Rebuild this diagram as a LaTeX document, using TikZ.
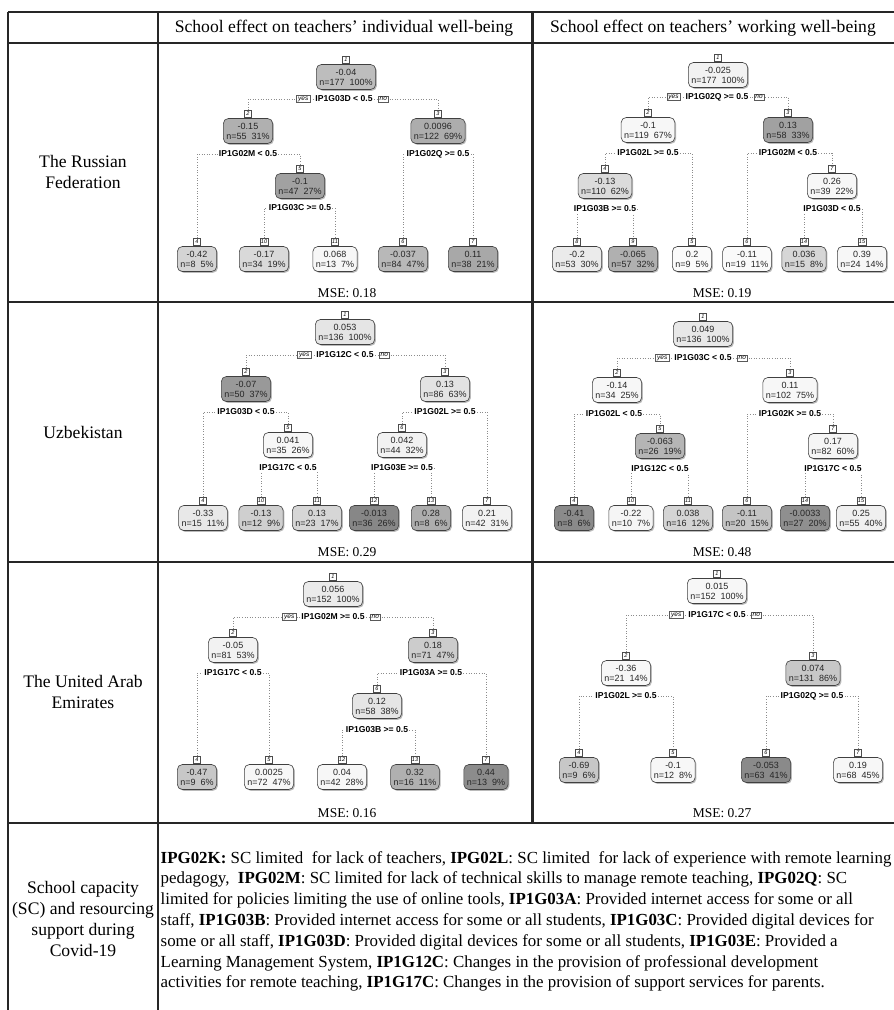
\documentclass[tikz,border=0pt]{standalone}
\usepackage{fontspec}
\setmainfont{Liberation Serif}
\newfontfamily\arialf{Liberation Sans}
\usetikzlibrary{shadows,backgrounds}
% tree node: name, x, y, fill, value, n, pct, number
\newcommand\tnd[8]{%
  \node[tn, fill=black!#4] (#1) at (#2,#3) {#5\\n=#6\ \ #7\%};
  \node[nlab, anchor=south] (#1n) at ([yshift=0.8pt]#1.north) {#8};}
\newcommand\spl[4]{\node[slab] (#1) at (#2,#3) {#4};}
\newcommand\yesno[1]{%
  \node[ynb, anchor=east] (#1y) at ([xshift=-4pt]#1.west) {yes};
  \node[ynb, anchor=west] (#1o) at ([xshift=4pt]#1.east) {no};}
\begin{document}
\begin{tikzpicture}[x=1pt,y=-1pt,
  tn/.style={draw=black!75, line width=0.6pt, rounded corners=5pt, align=center,
    font=\arialf\fontsize{9}{10.2}\selectfont, text=black!85, inner xsep=3pt,
    inner ysep=2.5pt, minimum height=25pt,
    drop shadow={shadow xshift=1.3pt, shadow yshift=-1.3pt, opacity=0.45, fill=black!60}},
  nlab/.style={draw=black!70, line width=0.5pt, fill=white,
    font=\arialf\itshape\fontsize{5.5}{6}\selectfont, inner sep=0.8pt,
    minimum width=7pt, minimum height=7pt},
  slab/.style={fill=white, font=\arialf\bfseries\fontsize{8.6}{9}\selectfont,
    inner xsep=1.2pt, inner ysep=0.5pt},
  ynb/.style={draw=black!65, line width=0.5pt, fill=white,
    font=\arialf\itshape\fontsize{6.5}{7}\selectfont, inner xsep=1.5pt, inner ysep=1pt},
  conn/.style={draw=black!45, dotted, line width=0.6pt},
  mse/.style={font=\fontsize{13.5}{15}\selectfont},
  hdr/.style={font=\fontsize{17.6}{20.8}\selectfont},
  rowl/.style={font=\fontsize{17.6}{20.8}\selectfont, align=center},
  leg/.style={font=\fontsize{16.9}{20.8}\selectfont, anchor=base west, inner sep=0pt},
  tline/.style={line width=1.5pt, draw=black!85},
]
\useasboundingbox (0,0) rectangle (894,1010);
\begin{scope}[on background layer]
  \fill[white] (0,0) rectangle (894,1010);
\end{scope}

% ---------- table ----------
\draw[tline] (8,12) -- (894,12);
\draw[tline] (8,43) -- (894,43);
\draw[tline] (8,302) -- (894,302);
\draw[tline] (8,562) -- (894,562);
\draw[tline] (8,823) -- (894,823);
\draw[tline] (8,12) -- (8,1010);
\draw[tline] (158,12) -- (158,1010);
\draw[line width=3.5pt, black!85] (532.5,12) -- (532.5,823);

\node[hdr] (h1) at (344,28) {School effect on teachers' individual well-being};
\node[hdr] (h2) at (713,28) {School effect on teachers' working well-being};

\node[rowl] (r1) at (83,172) {The Russian\\Federation};
\node[rowl] (r2) at (83,432) {Uzbekistan};
\node[rowl] (r3) at (83,692) {The United Arab\\Emirates};
\node[rowl] (r4) at (83,919) {School capacity\\(SC) and resourcing\\support during\\Covid-19};

% ---------- Tree A: Russia, individual ----------
\tnd{A1}{346}{77}{26}{-0.04}{177}{100}{1}
\spl{A1s}{344}{99}{IP1G03D < 0.5}\yesno{A1s}
\tnd{A2}{248}{131}{31}{-0.15}{55}{31}{2}
\tnd{A3}{438}{131}{32}{0.0096}{122}{69}{3}
\spl{A2s}{248}{154}{IP1G02M < 0.5}
\spl{A3s}{438}{154}{IP1G02Q >= 0.5}
\tnd{A5}{300}{186}{37}{-0.1}{47}{27}{5}
\spl{A5s}{300}{208}{IP1G03C >= 0.5}
\tnd{A4}{197}{259}{17}{-0.42}{8}{5}{4}
\tnd{A10}{264}{259}{15}{-0.17}{34}{19}{10}
\tnd{A11}{335}{259}{3}{0.068}{13}{7}{11}
\tnd{A6}{403}{259}{28}{-0.037}{84}{47}{6}
\tnd{A7}{473}{259}{34}{0.11}{38}{21}{7}
\node[mse] (mA) at (347,293) {MSE: 0.18};

% ---------- Tree B: Russia, working ----------
\tnd{B1}{718}{75}{5}{-0.025}{177}{100}{1}
\spl{B1s}{717}{97}{IP1G02Q >= 0.5}\yesno{B1s}
\tnd{B2}{648}{130}{3}{-0.1}{119}{67}{2}
\tnd{B3}{788}{130}{37}{0.13}{58}{33}{3}
\spl{B2s}{648}{153}{IP1G02L >= 0.5}
\spl{B3s}{788}{153}{IP1G02M < 0.5}
\tnd{B4}{605}{186}{14}{-0.13}{110}{62}{4}
\tnd{B7}{832}{186}{3}{0.26}{39}{22}{7}
\spl{B4s}{605}{209}{IP1G03B >= 0.5}
\spl{B7s}{832}{209}{IP1G03D < 0.5}
\tnd{B8}{577}{259}{8}{-0.2}{53}{30}{8}
\tnd{B9}{633}{259}{31}{-0.065}{57}{32}{9}
\tnd{B5}{692}{259}{2}{0.2}{9}{5}{5}
\tnd{B6}{747}{259}{2}{-0.11}{19}{11}{6}
\tnd{B14}{804}{259}{16}{0.036}{15}{8}{14}
\tnd{B15}{862}{259}{3}{0.39}{24}{14}{15}
\node[mse] (mB) at (722,293) {MSE: 0.19};

% ---------- Tree C: Uzbekistan, individual ----------
\tnd{C1}{345}{332}{10}{0.053}{136}{100}{1}
\spl{C1s}{345}{355}{IP1G12C < 0.5}\yesno{C1s}
\tnd{C2}{246}{389}{40}{-0.07}{50}{37}{2}
\tnd{C3}{445}{389}{11}{0.13}{86}{63}{3}
\spl{C2s}{246}{412}{IP1G03D < 0.5}
\spl{C3s}{445}{412}{IP1G02L >= 0.5}
\tnd{C5}{288}{445}{3}{0.041}{35}{26}{5}
\tnd{C6}{402}{445}{5}{0.042}{44}{32}{6}
\spl{C5s}{288}{468}{IP1G17C < 0.5}
\spl{C6s}{402}{468}{IP1G03E >= 0.5}
\tnd{C4}{203}{518}{9}{-0.33}{15}{11}{4}
\tnd{C10}{261}{518}{19}{-0.13}{12}{9}{10}
\tnd{C11}{317}{518}{16}{0.13}{23}{17}{11}
\tnd{C12}{374}{518}{47}{-0.013}{36}{26}{12}
\tnd{C13}{431}{518}{32}{0.28}{8}{6}{13}
\tnd{C7}{487}{518}{5}{0.21}{42}{31}{7}
\node[mse] (mC) at (347,552) {MSE: 0.29};

% ---------- Tree D: Uzbekistan, working ----------
\tnd{D1}{703}{334}{9}{0.049}{136}{100}{1}
\spl{D1s}{703}{358}{IP1G03C < 0.5}\yesno{D1s}
\tnd{D2}{617}{390}{3}{-0.14}{34}{25}{2}
\tnd{D3}{790}{390}{3}{0.11}{102}{75}{3}
\spl{D2s}{614}{414}{IP1G02L < 0.5}
\spl{D3s}{790}{414}{IP1G02K >= 0.5}
\tnd{D5}{660}{446}{29}{-0.063}{26}{19}{5}
\tnd{D7}{833}{446}{4}{0.17}{82}{60}{7}
\spl{D5s}{660}{469}{IP1G12C < 0.5}
\spl{D7s}{833}{469}{IP1G17C < 0.5}
\tnd{D4}{574}{518}{46}{-0.41}{8}{6}{4}
\tnd{D10}{631}{518}{4}{-0.22}{10}{7}{10}
\tnd{D11}{688}{518}{17}{0.038}{16}{12}{11}
\tnd{D6}{747}{518}{23}{-0.11}{20}{15}{6}
\tnd{D14}{805}{518}{44}{-0.0033}{27}{20}{14}
\tnd{D15}{861}{518}{6}{0.25}{55}{40}{15}
\node[mse] (mD) at (722,552) {MSE: 0.48};

% ---------- Tree E: UAE, individual ----------
\tnd{E1}{333}{594}{8}{0.056}{152}{100}{1}
\spl{E1s}{333}{617}{IP1G02M >= 0.5}\yesno{E1s}
\tnd{E2}{233}{650}{5}{-0.05}{81}{53}{2}
\tnd{E3}{433}{650}{20}{0.18}{71}{47}{3}
\spl{E2s}{233}{673}{IP1G17C < 0.5}
\spl{E3s}{431}{673}{IP1G03A >= 0.5}
\tnd{E6}{377}{706}{10}{0.12}{58}{38}{6}
\spl{E6s}{377}{730}{IP1G03B >= 0.5}
\tnd{E4}{197}{777}{22}{-0.47}{9}{6}{4}
\tnd{E5}{269}{777}{3}{0.0025}{72}{47}{5}
\tnd{E12}{342}{777}{3}{0.04}{42}{28}{12}
\tnd{E13}{415}{777}{31}{0.32}{16}{11}{13}
\tnd{E7}{486}{777}{45}{0.44}{13}{9}{7}
\node[mse] (mE) at (347,813) {MSE: 0.16};

% ---------- Tree F: UAE, working ----------
\tnd{F1}{717}{591}{3}{0.015}{152}{100}{1}
\spl{F1s}{717}{615}{IP1G17C < 0.5}\yesno{F1s}
\tnd{F2}{626}{673}{3}{-0.36}{21}{14}{2}
\tnd{F3}{813}{673}{22}{0.074}{131}{86}{3}
\spl{F2s}{626}{696}{IP1G02L >= 0.5}
\spl{F3s}{812}{696}{IP1G02Q >= 0.5}
\tnd{F4}{579}{770}{22}{-0.69}{9}{6}{4}
\tnd{F5}{673}{770}{3}{-0.1}{12}{8}{5}
\tnd{F6}{766}{770}{46}{-0.053}{63}{41}{6}
\tnd{F7}{858}{770}{3}{0.19}{68}{45}{7}
\node[mse] (mF) at (722,813) {MSE: 0.27};

% ---------- connectors ----------
\begin{scope}[on background layer]
  \draw[conn] (A2n.north) |- (A1s) -| (A3n.north);
  \draw[conn] (A4n.north) |- (A2s) -| (A5n.north);
  \draw[conn] (A6n.north) |- (A3s) -| (A7n.north);
  \draw[conn] (A10n.north) |- (A5s) -| (A11n.north);
  \draw[conn] (B2n.north) |- (B1s) -| (B3n.north);
  \draw[conn] (B4n.north) |- (B2s) -| (B5n.north);
  \draw[conn] (B6n.north) |- (B3s) -| (B7n.north);
  \draw[conn] (B8n.north) |- (B4s) -| (B9n.north);
  \draw[conn] (B14n.north) |- (B7s) -| (B15n.north);
  \draw[conn] (C2n.north) |- (C1s) -| (C3n.north);
  \draw[conn] (C4n.north) |- (C2s) -| (C5n.north);
  \draw[conn] (C6n.north) |- (C3s) -| (C7n.north);
  \draw[conn] (C10n.north) |- (C5s) -| (C11n.north);
  \draw[conn] (C12n.north) |- (C6s) -| (C13n.north);
  \draw[conn] (D2n.north) |- (D1s) -| (D3n.north);
  \draw[conn] (D4n.north) |- (D2s) -| (D5n.north);
  \draw[conn] (D6n.north) |- (D3s) -| (D7n.north);
  \draw[conn] (D10n.north) |- (D5s) -| (D11n.north);
  \draw[conn] (D14n.north) |- (D7s) -| (D15n.north);
  \draw[conn] (E2n.north) |- (E1s) -| (E3n.north);
  \draw[conn] (E4n.north) |- (E2s) -| (E5n.north);
  \draw[conn] (E6n.north) |- (E3s) -| (E7n.north);
  \draw[conn] (E12n.north) |- (E6s) -| (E13n.north);
  \draw[conn] (F2n.north) |- (F1s) -| (F3n.north);
  \draw[conn] (F4n.north) |- (F2s) -| (F5n.north);
  \draw[conn] (F6n.north) |- (F3s) -| (F7n.north);
\end{scope}

% ---------- legend ----------
\node[leg] (L1) at (160.5,863) {\textbf{IPG02K:} SC limited\ \ for lack of teachers, \textbf{IPG02L}: SC limited\ \ for lack of experience with remote learning};
\node[leg] (L2) at (160.5,883.8) {pedagogy,\ \ \textbf{IPG02M}: SC limited for lack of technical skills to manage remote teaching, \textbf{IPG02Q}: SC};
\node[leg] (L3) at (160.5,904.6) {limited for policies limiting the use of online tools, \textbf{IP1G03A}: Provided internet access for some or all};
\node[leg] (L4) at (160.5,925.4) {staff, \textbf{IP1G03B}: Provided internet access for some or all students, \textbf{IP1G03C}: Provided digital devices for};
\node[leg] (L5) at (160.5,946.2) {some or all staff, \textbf{IP1G03D}: Provided digital devices for some or all students, \textbf{IP1G03E}: Provided a};
\node[leg] (L6) at (160.5,967) {Learning Management System, \textbf{IP1G12C}: Changes in the provision of professional development};
\node[leg] (L7) at (160.5,987.8) {activities for remote teaching, \textbf{IP1G17C}: Changes in the provision of support services for parents.};
\end{tikzpicture}
\end{document}
